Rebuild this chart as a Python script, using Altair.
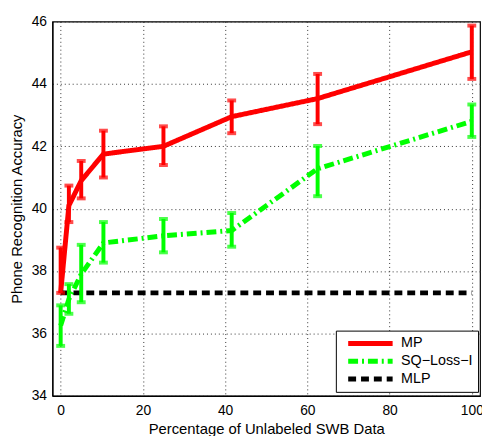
import altair as alt
import pandas as pd

# ---- data ----
x_pct = [0, 2, 5, 10.4, 25, 41.6, 62.5, 100]
mp_mean = [37.3, 40.1, 40.9, 41.75, 42.0, 42.95, 43.53, 45.03]
mp_low = [37.3, 39.57, 40.33, 41.0, 41.4, 42.42, 42.71, 44.16]
mp_high = [38.75, 40.74, 41.53, 42.5, 42.64, 43.47, 44.32, 45.87]
sq_mean = [36.25, 37.1, 37.9, 38.9, 39.13, 39.3, 41.28, 42.8]
sq_low = [35.6, 36.63, 37.0, 38.27, 38.6, 38.78, 40.4, 42.3]
sq_high = [36.9, 37.58, 38.84, 39.57, 39.67, 39.86, 42.01, 43.34]
mlp_x = [0, 100]
mlp_y = [37.3, 37.3]
series_names = ["MP", "SQ\u2212Loss\u2212I", "MLP"]
series_colors = ["#ff0000", "#00ff00", "#000000"]
series_dash = [[1, 0], [10, 4, 2, 4], [8, 5]]
series_width = [5, 5, 4]
x_ticks = [0, 20, 40, 60, 80, 100]
y_ticks = [34, 36, 38, 40, 42, 44, 46]

# ---- tables ----
rows = []
for i, x in enumerate(x_pct):
    rows.append({"series": series_names[0], "x": x, "y": mp_mean[i], "o": i})
    rows.append({"series": series_names[1], "x": x, "y": sq_mean[i], "o": i})
for i, x in enumerate(mlp_x):
    rows.append({"series": series_names[2], "x": x, "y": mlp_y[i], "o": i})
lines_df = pd.DataFrame(rows)

err_rows = []
for i, x in enumerate(x_pct):
    err_rows.append({"series": series_names[0], "x": x, "lo": mp_low[i], "hi": mp_high[i]})
    err_rows.append({"series": series_names[1], "x": x, "lo": sq_low[i], "hi": sq_high[i]})
err_df = pd.DataFrame(err_rows)

FONT = "Liberation Sans"

xscale = alt.Scale(domain=[-2, 102], nice=False, zero=False)
yscale = alt.Scale(domain=[34, 46], nice=False, zero=False)
cscale = alt.Scale(domain=series_names, range=series_colors)

xenc = alt.X("x:Q", scale=xscale,
             axis=alt.Axis(values=x_ticks, title="Percentage of Unlabeled SWB Data",
                           grid=True, ticks=False, labelPadding=8, titlePadding=4,
                           labelFontSize=14, titleFontSize=15, format="d"))
yenc = alt.Y("y:Q", scale=yscale,
             axis=alt.Axis(values=y_ticks, title="Phone Recognition Accuracy",
                           grid=True, ticks=False, labelPadding=6, titlePadding=7,
                           labelFontSize=14, titleFontSize=15, format="d"))

err_color = alt.Color("series:N", scale=cscale, legend=None)

bars = alt.Chart(err_df).mark_rule(strokeWidth=4).encode(
    x=alt.X("x:Q", scale=xscale), y=alt.Y("lo:Q", scale=yscale), y2="hi:Q", color=err_color
)
caps_lo = alt.Chart(err_df).mark_tick(orient="horizontal", thickness=4, size=9).encode(
    x=alt.X("x:Q", scale=xscale), y=alt.Y("lo:Q", scale=yscale), color=err_color
)
caps_hi = alt.Chart(err_df).mark_tick(orient="horizontal", thickness=4, size=9).encode(
    x=alt.X("x:Q", scale=xscale), y=alt.Y("hi:Q", scale=yscale), color=err_color
)

lines = alt.Chart(lines_df).mark_line(strokeCap="butt").encode(
    x=xenc,
    y=yenc,
    order="o:Q",
    color=alt.Color("series:N", scale=cscale, sort=series_names,
                    legend=alt.Legend(title=None)),
    strokeDash=alt.StrokeDash("series:N", sort=series_names,
                              scale=alt.Scale(domain=series_names, range=series_dash),
                              legend=alt.Legend(title=None)),
    strokeWidth=alt.StrokeWidth("series:N",
                                scale=alt.Scale(domain=series_names, range=series_width),
                                legend=None),
)

chart = alt.layer(lines, bars, caps_lo, caps_hi).properties(
    width=433, height=379,
    autosize=alt.AutoSizeParams(type="none"),
    padding={"left": 45, "top": 11, "right": 2, "bottom": 38},
).configure_view(
    stroke="black", strokeWidth=1.2
).configure_axis(
    labelFont=FONT, titleFont=FONT, labelColor="black", titleColor="black",
    titleFontWeight="normal", domainColor="black", domainWidth=1.2,
    gridColor="#333333", gridDash=[1, 3], gridWidth=1, gridOpacity=1,
).configure_legend(
    orient="none", legendX=287, legendY=313,
    fillColor="white", strokeColor="black", strokeWidth=1,
    padding=5, symbolType="M-4.5,0L4.5,0", symbolSize=100, symbolStrokeWidth=5,
    labelFont=FONT, labelFontSize=14.5, labelColor="black", labelOffset=23.5,
    rowPadding=2, symbolOffset=22.5, clipHeight=16,
)

chart.save("out.html", embed_options={"renderer": "svg", "actions": False})
